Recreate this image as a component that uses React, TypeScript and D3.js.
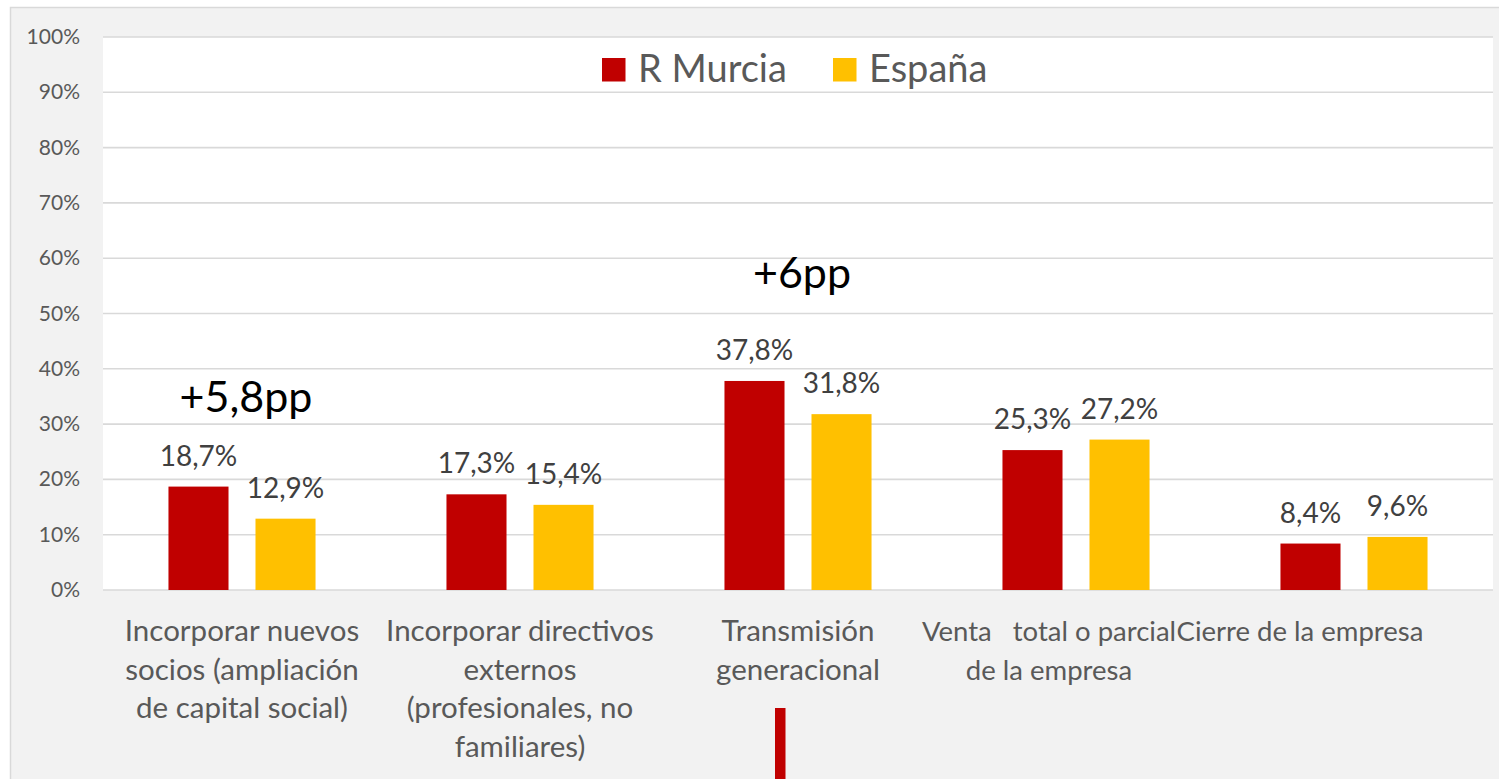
import React from 'react';
import * as d3 from 'd3';

const categories = [
  ['Incorporar nuevos', 'socios (ampliación', 'de capital social)'],
  ['Incorporar directivos', 'externos', '(profesionales, no', 'familiares)'],
  ['Transmisión', 'generacional'],
  ['Venta   total o parcial', 'de la empresa'],
  ['Cierre de la empresa'],
];
const murcia = [18.7, 17.3, 37.8, 25.3, 8.4];
const espana = [12.9, 15.4, 31.8, 27.2, 9.6];
const seriesNames = ['R Murcia', 'España'];
const yTicks = [0, 10, 20, 30, 40, 50, 60, 70, 80, 90, 100];
const notes = [
  { cat: 0, text: '+5,8pp', at: 32.2 },
  { cat: 2, text: '+6pp', at: 54.6 },
];

const W = 1499;
const H = 779;
const colors = ['#c00000', '#ffc000'];
const font = 'Lato, "Open Sans", sans-serif';
const fmt = (v: number) => v.toFixed(1).replace('.', ',') + '%';

// excel pushed the last two labels sideways and squeezed them
const labelShift = [0, 0, 0, -27, -54];
const labelSize = [29.5, 29.5, 29.5, 27.5, 27.5];

export default function App() {
  const plot = { left: 103, right: 1493, top: 37, bottom: 590 };

  const x = d3
    .scaleBand<number>()
    .domain(d3.range(categories.length))
    .range([plot.left, plot.right])
    .paddingInner(0.471)
    .paddingOuter(0.2355);
  const x1 = d3
    .scaleBand<number>()
    .domain([0, 1])
    .range([0, x.bandwidth()])
    .paddingInner(0.31);
  const y = d3.scaleLinear().domain([0, 100]).range([plot.bottom, plot.top]);

  const series = [murcia, espana];
  const center = (i: number) => (x(i) as number) + x.bandwidth() / 2;

  return (
    <svg
      width={W}
      height={H}
      style={{ position: 'absolute', left: 0, top: 0, display: 'block', background: '#fff' }}
      fontFamily={font}
    >
      <rect x={10.5} y={7.5} width={W + 20} height={H + 20} fill="#f2f2f2" stroke="#d9d9d9" strokeWidth={1.5} />
      <rect x={plot.left} y={plot.top} width={plot.right - plot.left} height={plot.bottom - plot.top} fill="#fff" />

      {yTicks.map((t) => (
        <g key={t}>
          <line x1={plot.left} x2={plot.right} y1={y(t)} y2={y(t)} stroke="#d9d9d9" strokeWidth={1.6} />
          <text x={80} y={y(t) + 7} textAnchor="end" fontSize={21} fill="#595959">
            {t}%
          </text>
        </g>
      ))}

      {series.map((vals, s) =>
        vals.map((v, i) => {
          const bx = (x(i) as number) + (x1(s) as number);
          return (
            <g key={`${s}-${i}`}>
              <rect x={bx} y={y(v)} width={x1.bandwidth()} height={y(0) - y(v)} fill={colors[s]} />
              <text x={bx + x1.bandwidth() / 2} y={y(v) - 21} textAnchor="middle" fontSize={28} fill="#404040">
                {fmt(v)}
              </text>
            </g>
          );
        })
      )}

      {categories.map((lines, i) => (
        <text
          key={i}
          x={center(i) + labelShift[i]}
          y={641}
          textAnchor="middle"
          fontSize={labelSize[i]}
          fill="#595959"
          style={{ whiteSpace: 'pre' }}
        >
          {lines.map((l, k) => (
            <tspan key={k} x={center(i) + labelShift[i]} dy={k === 0 ? 0 : 38.5}>
              {l}
            </tspan>
          ))}
        </text>
      ))}

      {notes.map((n) => (
        <text key={n.text} x={center(n.cat) + 4} y={y(n.at)} textAnchor="middle" fontSize={43} fill="#000">
          {n.text}
        </text>
      ))}

      <g>
        <rect x={602} y={58} width={23.5} height={23.5} fill={colors[0]} />
        <text x={638} y={81.5} fontSize={38} fill="#595959">
          {seriesNames[0]}
        </text>
        <rect x={833} y={58} width={23.5} height={23.5} fill={colors[1]} />
        <text x={869} y={81.5} fontSize={38} fill="#595959">
          {seriesNames[1]}
        </text>
      </g>

      <rect x={775} y={708} width={10.5} height={H - 708} fill={colors[0]} />
    </svg>
  );
}
